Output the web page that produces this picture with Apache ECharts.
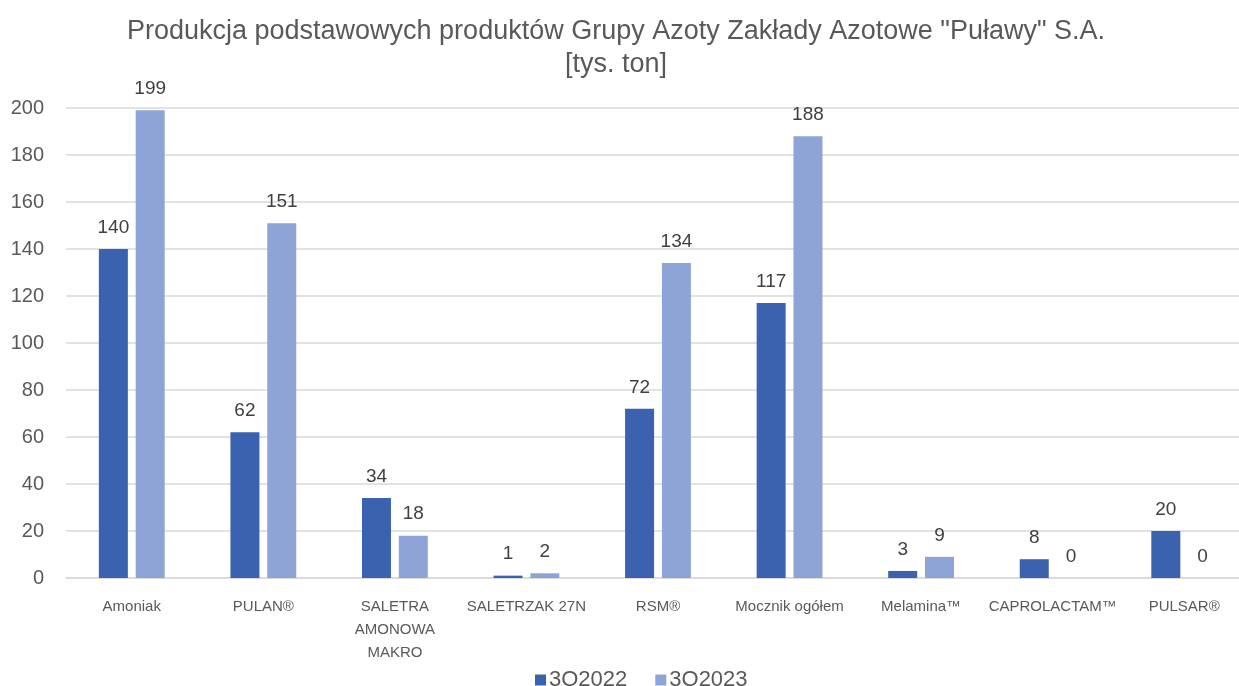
<!DOCTYPE html>
<html>
<head>
<meta charset="utf-8">
<script src="https://cdn.jsdelivr.net/npm/echarts@6/dist/echarts.min.js"></script>
<style>
  html, body { margin: 0; padding: 0; background: #fff; overflow: hidden; }
  #chart { width: 1239px; height: 686px; overflow: hidden; }
</style>
</head>
<body>
<div id="chart"></div>
<script>
// Dane [tys. ton]
const kategorie = ['Amoniak', 'PULAN®', 'SALETRA\nAMONOWA\nMAKRO', 'SALETRZAK 27N', 'RSM®',
                   'Mocznik ogółem', 'Melamina™', 'CAPROLACTAM™', 'PULSAR®'];
const q2022 = [140, 62, 34, 1, 72, 117, 3, 8, 20];
const q2023 = [199, 151, 18, 2, 134, 188, 9, 0, 0];
const serie = ['3Q2022', '3Q2023'];
const kolory = ['#3a62ae', '#8fa4d6'];

const FONT = '"Liberation Sans", Arial, sans-serif';

// obszar wykresu wychodzi nieco poza prawą krawędź, jak w oryginale
const chart = echarts.init(document.getElementById('chart'), null, { width: 1250, height: 686 });

// etykiety nad słupkami
const etykieta = {
    show: true,
    position: 'top',
    distance: 12,
    color: '#404040',
    fontSize: 19,
    fontFamily: FONT
};

chart.setOption({
    animation: false,
    title: {
        text: 'Produkcja podstawowych produktów Grupy Azoty Zakłady Azotowe "Puławy" S.A.\n[tys. ton]',
        left: 611,
        textAlign: 'center',
        top: 10,
        textStyle: { color: '#595959', fontSize: 27, fontWeight: 'normal', fontFamily: FONT, lineHeight: 33 }
    },
    legend: {
        data: serie,
        top: 664,
        left: 530,
        itemWidth: 11,
        itemHeight: 11,
        itemGap: 28,
        icon: 'rect',
        textStyle: { color: '#595959', fontSize: 22, fontFamily: FONT, padding: [0, 0, 0, -2] }
    },
    grid: { left: 66, right: 0, top: 108, bottom: 108 },
    xAxis: {
        type: 'category',
        data: kategorie,
        axisTick: { show: false },
        axisLine: { lineStyle: { color: '#d9d9d9', width: 1.5 } },
        axisLabel: { color: '#595959', fontSize: 15, fontFamily: FONT, margin: 17, lineHeight: 23, interval: 0 }
    },
    yAxis: {
        type: 'value',
        min: 0,
        max: 200,
        interval: 20,
        axisLine: { show: false },
        axisTick: { show: false },
        splitLine: { lineStyle: { color: '#d9d9d9', width: 1.5 } },
        axisLabel: { color: '#595959', fontSize: 20, fontFamily: FONT, margin: 22 }
    },
    series: [
        { name: serie[0], type: 'bar', data: q2022, barWidth: 29, barGap: '27%',
          itemStyle: { color: kolory[0] }, label: etykieta },
        { name: serie[1], type: 'bar', data: q2023, barWidth: 29,
          itemStyle: { color: kolory[1] }, label: etykieta }
    ]
});
</script>
</body>
</html>
